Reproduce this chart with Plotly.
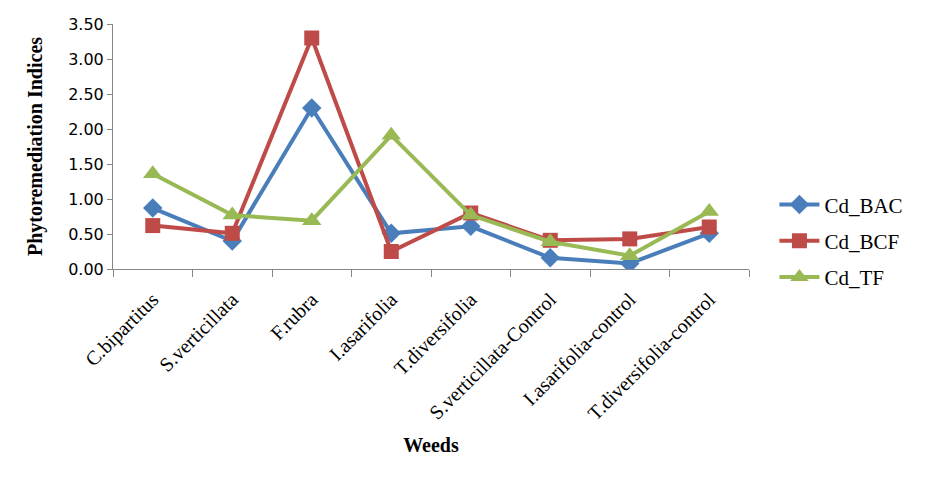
import plotly.graph_objects as go

weeds = ["C.bipartitus", "S.verticillata", "F.rubra", "I.asarifolia",
         "T.diversifolia", "S.verticillata-Control", "I.asarifolia-control",
         "T.diversifolia-control"]
cd_bac = [0.87, 0.40, 2.30, 0.51, 0.61, 0.16, 0.08, 0.51]
cd_bcf = [0.62, 0.51, 3.30, 0.25, 0.80, 0.41, 0.43, 0.60]
cd_tf = [1.36, 0.77, 0.69, 1.91, 0.77, 0.39, 0.19, 0.82]

serif = "Liberation Serif"

fig = go.Figure()
for name, vals, color, symbol, size in [
    ("Cd_BAC", cd_bac, "#4A7EBB", "diamond", 15),
    ("Cd_BCF", cd_bcf, "#BE4B48", "square", 15),
    ("Cd_TF", cd_tf, "#98B954", "triangle-up", 17),
]:
    fig.add_trace(go.Scatter(
        x=weeds, y=vals, name=name, legendgroup=name, mode="lines+markers",
        line=dict(color=color, width=4),
        marker=dict(symbol=symbol, size=size, color=color),
    ))

fig.update_layout(
    width=925, height=481,
    margin=dict(l=105, r=184, t=16, b=220),
    font=dict(family=serif, color="black"),
    plot_bgcolor="white", paper_bgcolor="white",
    legend=dict(x=1.04, y=0.115, xanchor="left", yanchor="middle",
                font=dict(family=serif, size=21, color="black"),
                tracegroupgap=6, itemwidth=40),
    xaxis=dict(
        title=dict(text="<b>Weeds</b>", font=dict(family=serif, size=20, color="black"),
                   standoff=14),
        tickangle=-45, tickfont=dict(family=serif, size=20, color="black"),
        ticklabelstandoff=10, automargin=False,
        showline=True, linecolor="#868686", linewidth=1,
        ticks="outside", tickson="boundaries", ticklen=7, tickcolor="#868686",
        range=[-0.5, 7.5], showgrid=False,
    ),
    yaxis=dict(
        title=dict(text="<b>Phytoremediation Indices</b>",
                   font=dict(family=serif, size=20, color="black"), standoff=20),
        range=[0, 3.5], dtick=0.5, tickformat=".2f", automargin=False,
        tickfont=dict(family="DejaVu Sans", size=16, color="black"),
        showline=True, linecolor="#868686", linewidth=1,
        ticks="outside", ticklen=5, tickcolor="#868686",
        showgrid=False, zeroline=False,
    ),
)

fig.write_html("out.html")
